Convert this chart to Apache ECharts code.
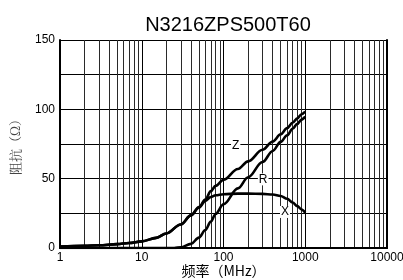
<!DOCTYPE html>
<html><head><meta charset="utf-8">
<script src="https://cdn.jsdelivr.net/npm/echarts@6/dist/echarts.min.js"></script>
<style>html,body{margin:0;padding:0;background:#fff}#c{width:403px;height:280px}</style>
</head><body><div id="c"></div>
<script>
var titleText = 'N3216ZPS500T60';
var xName = '频率（MHz）';
var yName = '阻抗（Ω）';
var xTicks = [1, 10, 100, 1000, 10000];
var yTicks = [0, 50, 100, 150];
var minorX = [2,3,4,5,6,7,8,9,20,30,40,50,60,70,80,90,200,300,400,500,600,700,800,900,2000,3000,4000,5000,6000,7000,8000,9000];

var zFreq = [1,2,3,5,7,10,15,20,30,40,50,60,70,80,100,150,200,300,400,500,600,700,800,900,1000];
var zVals = [1,1.5,2,2.8,3.6,4.8,7.3,10.5,17,23.5,29.5,35,41,44.8,49.2,57,62.5,70.8,76.8,82,86.5,90.3,93.5,96.5,98.3];

var rFreq = [1,10,20,25,30,40,50,60,70,80,100,150,200,300,400,500,600,700,800,900,1000];
var rVals = [0,0,0,0,0.5,3,7.5,13,19,24.5,31.5,43,51,62,70,76.5,81.3,86,89.6,92.6,94.7];

var xFreq = [1,2,3,5,7,10,15,20,30,40,50,60,70,80,100,150,200,300,400,500,600,700,800,900,1000];
var xVals = [1,1.5,2,2.8,3.6,4.8,7.3,10.5,17,23.5,29,34,36.8,38,38.8,39.2,39.2,39,38.6,37.5,35.5,32.8,30.2,27.8,25.5];

var curveLabels = [
  {name: 'Z', freq: 141, value: 73.5},
  {name: 'R', freq: 306, value: 49.5},
  {name: 'X', freq: 565, value: 26}
];

function pairs(f, v) { return f.map(function (x, i) { return [x, v[i]]; }); }

var chart = echarts.init(document.getElementById('c'), null, {renderer: 'canvas'});
var lineStyle = {color: '#000', width: 2.6};
var font = 'Liberation Sans, Arial, sans-serif';
var labelPoint = function (l) {
  return {
    coord: [l.freq, l.value], symbol: 'circle', symbolSize: 1,
    itemStyle: {color: 'rgba(0,0,0,0)'},
    label: {show: true, position: 'inside', formatter: l.name, color: '#000',
      fontFamily: font, fontSize: 12,
      backgroundColor: '#fff', padding: [0, 1, 0, 1], lineHeight: 12}
  };
};
var frameAxis = {axisLine: {show: true, lineStyle: {color: '#000', width: 2}}, axisTick: {show: false},
  axisLabel: {show: false}, splitLine: {show: false}, z: 20};
chart.setOption({
  animation: false,
  title: {text: titleText, left: 223, textAlign: 'center', top: 10,
    textStyle: {fontFamily: font, fontSize: 20, fontWeight: 'normal', color: '#000'}},
  grid: {left: 60, right: 16, top: 40, bottom: 32, show: false, containLabel: false, outerBoundsMode: 'none'},
  xAxis: [{
    type: 'log', logBase: 10, min: xTicks[0], max: xTicks[xTicks.length - 1],
    name: xName, nameLocation: 'middle', nameGap: 16, nameMoveOverlap: false,
    nameTextStyle: {fontFamily: 'Noto Sans CJK SC', fontSize: 14, color: '#000'},
    axisLine: {show: true, lineStyle: {color: '#000', width: 2}}, axisTick: {show: false},
    axisLabel: {margin: 4, fontFamily: font, fontSize: 12, color: '#000', showMaxLabel: true, showMinLabel: true,
      hideOverlap: false, formatter: function (v) { return String(Math.round(v)); }},
    splitLine: {show: true, lineStyle: {color: '#000', width: 1}}
  }, Object.assign({type: 'log', logBase: 10, min: xTicks[0], max: xTicks[xTicks.length - 1], position: 'top'}, frameAxis)],
  yAxis: [{
    type: 'value', min: yTicks[0], max: yTicks[yTicks.length - 1], interval: 25,
    name: yName, nameLocation: 'middle', nameGap: 38, nameRotate: 90, nameMoveOverlap: false,
    nameTextStyle: {fontFamily: 'Noto Serif CJK SC, Noto Sans CJK SC', fontSize: 13, color: '#444'},
    axisLine: {show: true, lineStyle: {color: '#000', width: 2}}, axisTick: {show: false},
    axisLabel: {margin: 5, fontFamily: font, fontSize: 12, color: '#000',
      formatter: function (v) { return yTicks.indexOf(v) >= 0 ? String(v) : ''; }},
    splitLine: {show: true, lineStyle: {color: '#000', width: 1}}
  }, Object.assign({type: 'value', min: yTicks[0], max: yTicks[yTicks.length - 1], position: 'right'}, frameAxis)],
  series: [
    {type: 'line', name: 'grid', data: [], z: 1, silent: true,
      markLine: {silent: true, symbol: 'none', label: {show: false}, animation: false,
        lineStyle: {color: '#2a2a2a', width: 1, type: 'solid'},
        data: minorX.map(function (v) { return {xAxis: v}; })}},
    {type: 'line', name: 'Z', data: pairs(zFreq, zVals), showSymbol: false, smooth: 0.35, smoothMonotone: 'x',
      lineStyle: lineStyle, z: 5},
    {type: 'line', name: 'R', data: pairs(rFreq, rVals), showSymbol: false, smooth: 0.35, smoothMonotone: 'x',
      lineStyle: lineStyle, z: 5},
    {type: 'line', name: 'X', data: pairs(xFreq, xVals), showSymbol: false, smooth: 0.35, smoothMonotone: 'x',
      lineStyle: lineStyle, z: 5},
    {type: 'scatter', data: [], z: 10,
      markPoint: {silent: true, data: curveLabels.map(labelPoint)}}
  ]
});
</script></body></html>
